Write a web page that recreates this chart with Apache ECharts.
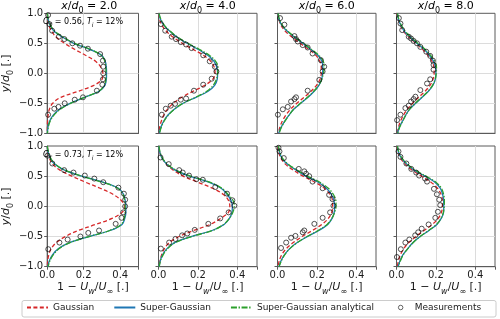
<!DOCTYPE html>
<html><head><meta charset="utf-8">
<script src="https://cdn.jsdelivr.net/npm/echarts@6/dist/echarts.min.js"></script>
<style>html,body{margin:0;padding:0;background:#fff}#c{width:500px;height:319px}</style>
</head><body><div id="c"></div>
<script>
// y positions (y/d0) at which the model curves are read, top to bottom
const yGrid = [1.0,0.9,0.8,0.7,0.6,0.5,0.4,0.3,0.2,0.1,0.0,-0.1,-0.2,-0.3,-0.4,-0.5,-0.6,-0.7,-0.8,-0.9,-1.0];
const xPositions = ['2.0','4.0','6.0','8.0'];
const caseLabels = [['0.56','12%'],['0.73','12%']];
const seriesNames = ['Gaussian','Super-Gaussian','Super-Gaussian analytical','Measurements'];

// Row 1 (C_T = 0.56)
const gaussP1 = [0.001,0.004,0.01,0.025,0.05,0.095,0.15,0.21,0.265,0.295,0.305,0.30,0.255,0.17,0.075,0.03,0.012,0.005,0.002,0.001,0];
const superP1 = [0.001,0.005,0.015,0.038,0.085,0.145,0.232,0.298,0.318,0.324,0.325,0.324,0.316,0.285,0.205,0.125,0.068,0.032,0.013,0.004,0.001];
const analyP1 = [0.001,0.006,0.018,0.042,0.09,0.15,0.236,0.296,0.316,0.321,0.322,0.321,0.313,0.283,0.205,0.128,0.072,0.036,0.016,0.006,0.001];
const measP1 = [[0.005,0.97],[0.012,0.82],[0.027,0.71],[0.064,0.61],[0.094,0.57],[0.138,0.5],[0.18,0.46],[0.223,0.41],[0.29,0.32],[0.305,0.21],[0.307,0.11],[0.307,0.0],[0.305,-0.1],[0.302,-0.19],[0.272,-0.29],[0.196,-0.4],[0.151,-0.44],[0.096,-0.5],[0.062,-0.56],[0.039,-0.59],[0.005,-0.69]];

const gaussP2 = [0.002,0.006,0.018,0.04,0.075,0.12,0.175,0.228,0.265,0.283,0.287,0.275,0.235,0.175,0.118,0.075,0.045,0.026,0.014,0.006,0.002];
const superP2 = [0.002,0.01,0.028,0.058,0.095,0.145,0.2,0.25,0.282,0.296,0.3,0.298,0.285,0.252,0.19,0.125,0.08,0.047,0.026,0.012,0.004];
const analyP2 = [0.003,0.012,0.03,0.06,0.098,0.15,0.207,0.258,0.29,0.302,0.3,0.294,0.278,0.245,0.188,0.125,0.08,0.049,0.028,0.014,0.005];
const measP2 = [[0.012,0.82],[0.034,0.71],[0.067,0.61],[0.089,0.57],[0.113,0.52],[0.14,0.48],[0.168,0.42],[0.227,0.3],[0.26,0.2],[0.286,0.11],[0.294,0.03],[0.27,-0.09],[0.227,-0.19],[0.18,-0.29],[0.14,-0.42],[0.113,-0.44],[0.084,-0.51],[0.062,-0.54],[0.037,-0.59],[0.017,-0.69]];

const gaussP3 = [0.002,0.007,0.018,0.04,0.075,0.115,0.158,0.195,0.215,0.222,0.222,0.216,0.198,0.17,0.135,0.098,0.066,0.042,0.024,0.012,0.005];
const superP3 = [0.002,0.008,0.022,0.05,0.088,0.128,0.167,0.205,0.225,0.23,0.229,0.224,0.21,0.186,0.155,0.118,0.082,0.058,0.036,0.018,0.006];
const analyP3 = [0.003,0.01,0.025,0.053,0.09,0.132,0.172,0.21,0.232,0.237,0.233,0.225,0.209,0.184,0.152,0.116,0.082,0.058,0.037,0.02,0.008];
const measP3 = [[0.013,0.92],[0.035,0.81],[0.086,0.62],[0.094,0.57],[0.103,0.53],[0.128,0.47],[0.153,0.43],[0.178,0.33],[0.22,0.22],[0.237,0.11],[0.229,0.03],[0.212,-0.11],[0.153,-0.29],[0.094,-0.4],[0.086,-0.43],[0.069,-0.47],[0.052,-0.56],[0.027,-0.6],[0.002,-0.69]];

const gaussP4 = [0.003,0.008,0.02,0.036,0.064,0.098,0.132,0.16,0.18,0.19,0.191,0.185,0.17,0.145,0.113,0.082,0.055,0.035,0.02,0.01,0.004];
const superP4 = [0.004,0.01,0.022,0.04,0.07,0.103,0.14,0.167,0.188,0.198,0.2,0.197,0.185,0.162,0.13,0.097,0.066,0.046,0.03,0.014,0.005];
const analyP4 = [0.005,0.012,0.025,0.044,0.074,0.108,0.145,0.173,0.194,0.203,0.202,0.196,0.183,0.16,0.128,0.096,0.066,0.047,0.031,0.016,0.006];
const measP4 = [[0.012,0.92],[0.02,0.83],[0.029,0.72],[0.062,0.61],[0.074,0.58],[0.087,0.54],[0.104,0.5],[0.121,0.44],[0.151,0.36],[0.171,0.29],[0.185,0.21],[0.188,0.14],[0.188,0.06],[0.171,-0.1],[0.155,-0.17],[0.121,-0.28],[0.096,-0.39],[0.087,-0.43],[0.074,-0.47],[0.062,-0.54],[0.045,-0.58],[0.02,-0.69],[0.003,-0.78]];

// Row 2 (C_T = 0.73)
const gaussP5 = [0.001,0.004,0.012,0.03,0.07,0.135,0.21,0.29,0.36,0.405,0.424,0.41,0.355,0.265,0.17,0.1,0.05,0.022,0.009,0.003,0.001];
const superP5 = [0.0,0.005,0.016,0.04,0.095,0.19,0.305,0.39,0.418,0.427,0.431,0.431,0.425,0.41,0.345,0.228,0.122,0.062,0.03,0.012,0.003];
const analyP5 = [0.001,0.007,0.019,0.043,0.098,0.19,0.302,0.386,0.415,0.424,0.427,0.427,0.421,0.405,0.342,0.228,0.125,0.066,0.034,0.015,0.005];
const measP5 = [[0.002,0.84],[0.028,0.71],[0.093,0.6],[0.144,0.56],[0.206,0.51],[0.258,0.46],[0.307,0.4],[0.39,0.31],[0.42,0.21],[0.427,0.11],[0.427,0.0],[0.416,-0.1],[0.407,-0.19],[0.375,-0.29],[0.284,-0.4],[0.225,-0.44],[0.182,-0.5],[0.112,-0.55],[0.067,-0.6],[0.006,-0.71]];

const gaussP6 = [0.002,0.006,0.018,0.04,0.075,0.125,0.2,0.275,0.328,0.355,0.362,0.355,0.315,0.262,0.178,0.105,0.055,0.03,0.016,0.008,0.002];
const superP6 = [0.001,0.006,0.018,0.042,0.085,0.158,0.255,0.318,0.348,0.368,0.375,0.373,0.36,0.333,0.272,0.165,0.082,0.043,0.021,0.009,0.003];
const analyP6 = [0.002,0.008,0.02,0.045,0.088,0.163,0.26,0.322,0.352,0.378,0.385,0.377,0.36,0.33,0.275,0.168,0.085,0.046,0.024,0.01,0.004];
const measP6 = [[0.01,0.81],[0.052,0.7],[0.105,0.6],[0.123,0.56],[0.155,0.51],[0.192,0.45],[0.225,0.44],[0.288,0.32],[0.348,0.21],[0.375,0.1],[0.385,0.01],[0.356,-0.1],[0.313,-0.2],[0.253,-0.29],[0.184,-0.39],[0.146,-0.45],[0.12,-0.48],[0.086,-0.54],[0.054,-0.6],[0.012,-0.7]];

const gaussP7 = [0.002,0.006,0.017,0.04,0.08,0.13,0.19,0.238,0.266,0.279,0.28,0.275,0.258,0.225,0.177,0.125,0.08,0.045,0.022,0.009,0.003];
const superP7 = [0.003,0.01,0.022,0.05,0.095,0.145,0.207,0.248,0.273,0.286,0.29,0.288,0.277,0.255,0.21,0.152,0.1,0.062,0.036,0.018,0.007];
const analyP7 = [0.004,0.012,0.025,0.054,0.1,0.152,0.215,0.258,0.283,0.296,0.297,0.29,0.276,0.252,0.206,0.15,0.1,0.063,0.037,0.02,0.008];
const measP7 = [[0.005,0.97],[0.01,0.91],[0.032,0.8],[0.108,0.62],[0.136,0.58],[0.145,0.54],[0.161,0.5],[0.178,0.41],[0.229,0.3],[0.262,0.19],[0.279,0.12],[0.284,0.01],[0.267,-0.1],[0.229,-0.19],[0.187,-0.29],[0.136,-0.4],[0.128,-0.43],[0.091,-0.49],[0.069,-0.52],[0.044,-0.6],[0.018,-0.69]];

const gaussP8 = [0.003,0.008,0.02,0.045,0.08,0.128,0.175,0.208,0.226,0.233,0.233,0.228,0.212,0.182,0.14,0.098,0.062,0.037,0.02,0.01,0.004];
const superP8 = [0.004,0.01,0.025,0.052,0.09,0.145,0.195,0.222,0.234,0.239,0.24,0.239,0.227,0.205,0.165,0.12,0.084,0.057,0.033,0.018,0.008];
const analyP8 = [0.005,0.012,0.028,0.056,0.095,0.15,0.2,0.228,0.239,0.243,0.242,0.238,0.226,0.203,0.163,0.12,0.085,0.058,0.035,0.02,0.009];
const measP8 = [[0.01,0.91],[0.02,0.82],[0.05,0.71],[0.075,0.62],[0.1,0.56],[0.115,0.51],[0.145,0.46],[0.155,0.41],[0.19,0.29],[0.205,0.2],[0.217,0.11],[0.222,0.02],[0.21,-0.09],[0.197,-0.19],[0.163,-0.3],[0.128,-0.37],[0.11,-0.43],[0.095,-0.48],[0.065,-0.55],[0.045,-0.6],[0.022,-0.71],[0.002,-0.84]];

const panels = [
  [gaussP1, superP1, analyP1, measP1],[gaussP2, superP2, analyP2, measP2],
  [gaussP3, superP3, analyP3, measP3],[gaussP4, superP4, analyP4, measP4],
  [gaussP5, superP5, analyP5, measP5],[gaussP6, superP6, analyP6, measP6],
  [gaussP7, superP7, analyP7, measP7],[gaussP8, superP8, analyP8, measP8]
];

const FONT = 'DejaVu Sans';
const TXT = '#1a1a1a';
const FRAME = '#5a5a5a';
const colLeft = [40, 158.5, 277.5, 396.5];
const colW = 98.5;
const rowTop = [13.3, 146];
const rowH = [120, 120.7];

function rich(fs, sfs, drop) {
  return {
    n: {fontSize: fs, fontFamily: FONT, color: TXT},
    i: {fontSize: fs, fontFamily: FONT, fontStyle: 'italic', color: TXT},
    s: {fontSize: sfs, fontFamily: FONT, color: TXT, verticalAlign: 'bottom', lineHeight: sfs + 1, padding: [0,0,-drop,0]},
    si: {fontSize: sfs, fontFamily: FONT, fontStyle: 'italic', color: TXT, verticalAlign: 'bottom', lineHeight: sfs + 1, padding: [0,0,-drop,0]}
  };
}

const grid = [], xAxis = [], yAxis = [], series = [];
const lineStyles = [
  {color: '#d62728', width: 1.3, type: [4, 2.4]},
  {color: '#1f77b4', width: 1.3, type: 'solid'},
  {color: '#2ca02c', width: 1.3, type: [6, 1.6, 1.4, 1.6]}
];

panels.forEach((p, k) => {
  const r = Math.floor(k / 4), c = k % 4;
  grid.push({left: colLeft[c], top: rowTop[r], width: colW, height: rowH[r], show: true,
    borderColor: FRAME, borderWidth: 1, backgroundColor: 'transparent'});
  xAxis.push({
    gridIndex: k, type: 'value', min: 0, max: 0.5, interval: 0.2,
    axisLine: {show: true, onZero: false, lineStyle: {color: FRAME, width: 1}},
    axisTick: {show: r === 1, length: 3, lineStyle: {color: FRAME}},
    axisLabel: {show: r === 1, fontSize: 10, fontFamily: FONT, color: TXT, margin: 4,
      formatter: v => (v > 0.45 ? '' : v.toFixed(1))},
    splitLine: {show: true, showMinLine: false, showMaxLine: false, lineStyle: {color: '#dcdcdc', width: 1}},
    name: r === 1 ? '{n|1 − }{i|U}{si|w}{n|/}{i|U}{s|∞}{n| [.]}' : '',
    nameLocation: 'middle', nameGap: 14,
    nameTextStyle: {rich: rich(11, 8, 3)}
  });
  yAxis.push({
    gridIndex: k, type: 'value', min: -1, max: 1, interval: 0.5,
    axisLine: {show: true, onZero: false, lineStyle: {color: FRAME, width: 1}},
    axisTick: {show: true, length: 3, lineStyle: {color: FRAME}},
    axisLabel: {show: c === 0, fontSize: 10, fontFamily: FONT, color: TXT, margin: 4,
      formatter: v => v.toFixed(1).replace('-', '−')},
    splitLine: {show: true, showMinLine: false, showMaxLine: false, lineStyle: {color: '#dcdcdc', width: 1}},
    name: c === 0 ? '{i|y}{n|/}{i|d}{s|0}{n| [.]}' : '',
    nameLocation: 'middle', nameGap: 24,
    nameTextStyle: {rich: rich(11, 8, 3)}
  });
  for (let j = 0; j < 3; j++) {
    series.push({
      name: seriesNames[j], type: 'line', xAxisIndex: k, yAxisIndex: k,
      data: yGrid.map((y, i) => [p[j][i], y]),
      smooth: 0.35, symbol: 'none', showSymbol: false, lineStyle: lineStyles[j],
      itemStyle: {color: lineStyles[j].color, opacity: 0},
      z: 2 + j, animation: false, clip: true
    });
  }
  series.push({
    name: seriesNames[3], type: 'scatter', xAxisIndex: k, yAxisIndex: k,
    data: p[3], symbol: 'circle', symbolSize: 5,
    itemStyle: {color: 'rgba(0,0,0,0)', borderColor: '#111', borderWidth: 0.9},
    z: 6, animation: false
  });
});

const graphic = [];
xPositions.forEach((xp, c) => {
  graphic.push({type: 'text', x: colLeft[c] + colW / 2, y: 6.5, z: 10,
    style: {text: '{i|x}{n|/}{i|d}{s|0}{n| = ' + xp + '}', rich: rich(11, 8, 3), align: 'center', verticalAlign: 'middle'}});
});
caseLabels.forEach((cl, r) => {
  graphic.push({type: 'text', x: 43, y: rowTop[r] + 9, z: 10,
    style: {text: '{i|C}{s|T}{n| = ' + cl[0] + ', }{i|T}{si|i}{n| = ' + cl[1] + '}', rich: rich(8, 6, 2), align: 'left', verticalAlign: 'middle'}});
});
graphic.push({type: 'rect', shape: {x: 22, y: 300.5, width: 474, height: 16.5, r: 2}, z: 0,
  style: {fill: '#fff', stroke: '#cccccc', lineWidth: 1}});

const legendText = {fontSize: 9, fontFamily: FONT, color: TXT};
const option = {
  animation: false,
  backgroundColor: '#fff',
  grid, xAxis, yAxis, series, graphic,
  legend: [
    {data: seriesNames.slice(0, 3), left: 26, top: 303, itemWidth: 21, itemHeight: 10, itemGap: 19,
      padding: 0, textStyle: legendText, selectedMode: false, itemStyle: {opacity: 0}},
    {data: [seriesNames[3]], left: 398, top: 303, itemWidth: 18, itemHeight: 4.5, itemGap: 0,
      padding: 0, textStyle: legendText, selectedMode: false,
      itemStyle: {color: 'rgba(0,0,0,0)', borderColor: '#111', borderWidth: 0.8}}
  ]
};
const chart = echarts.init(document.getElementById('c'), null, {renderer: 'canvas'});
chart.setOption(option);
</script></body></html>
